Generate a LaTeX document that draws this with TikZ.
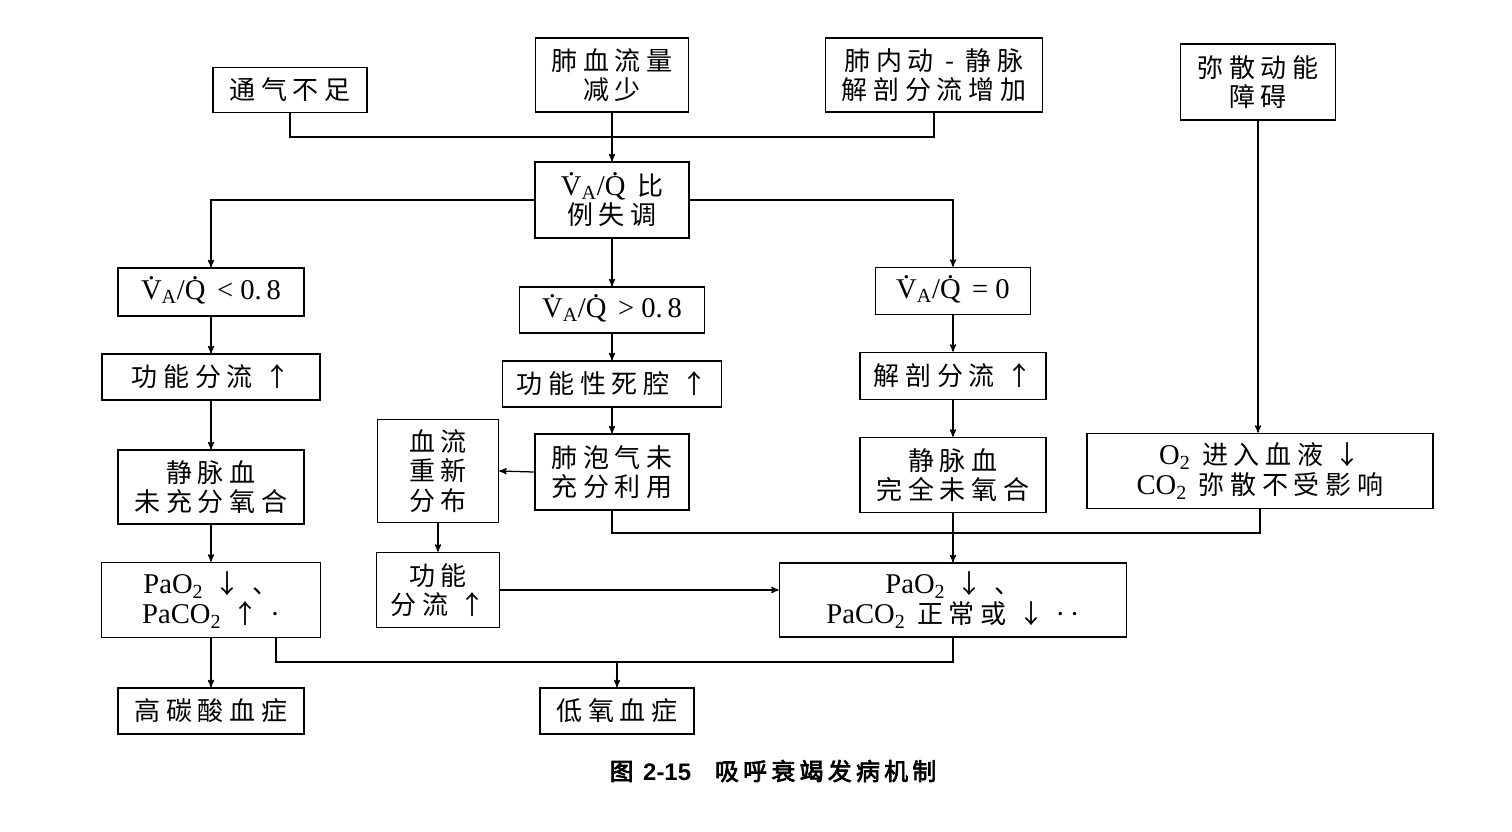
\documentclass[tikz,border=0pt]{standalone}
\usepackage[no-math]{fontspec}
\setmainfont[LetterSpace=22]{Noto Sans CJK SC}
\newfontfamily\lat[Scale=1.1]{Liberation Serif}
\newfontfamily\capfont[FakeBold=3,LetterSpace=18]{Noto Sans CJK SC}
\newfontfamily\capnum{Liberation Sans}
\usetikzlibrary{arrows}

\newcommand{\dt}[1]{\ooalign{#1\cr\hidewidth\raisebox{0.7em}{.}\hidewidth\cr}}
\newcommand{\vq}{{\lat\dt{V}\textsubscript{A}/\dt{Q}}}
\newcommand{\gas}[2]{{\lat #1\textsubscript{#2}}}

\begin{document}
\begin{tikzpicture}[
    x=0.025cm, y=-0.025cm,
    box/.style={rectangle, draw, line width=1.1pt, align=center, inner sep=2pt, font=\fontsize{18.5}{21}\selectfont},
    sz/.style 2 args={minimum width=#1cm, minimum height=#2cm},
    arrow/.style={->, >=stealth', line width=0.9pt},
    line/.style={line width=0.9pt}
]
\useasboundingbox (0,0) rectangle (1512,831);

% 病因
\node[box, sz={3.85}{1.125}] (tongqi) at (290,90) {通气不足};
\node[box, sz={3.825}{1.85}] (feixue) at (612,75) {肺血流量\\减少};
\node[box, sz={5.425}{1.85}] (feinei) at (934,75) {肺内动 - 静脉\\解剖分流增加};
\node[box, sz={3.875}{1.9}] (misan) at (1258,82) {弥散动能\\障碍};

% 比例失调
\node[box, sz={3.85}{1.9}] (vaq) at (612,200) {\vq\ 比\\例失调};
\node[box, sz={4.65}{1.2}] (lt08) at (211,292) {\vq\ {\lat < 0.\,8}};
\node[box, sz={4.625}{1.15}] (gt08) at (612,310) {\vq\ {\lat > 0.\,8}};
\node[box, sz={3.875}{1.175}] (eq0) at (953,291) {\vq\ {\lat = 0}};

% 中间环节
\node[box, sz={5.45}{1.15}] (gongneng) at (211,377) {功能分流 ↑};
\node[box, sz={5.475}{1.15}] (sijiang) at (612,384) {功能性死腔 ↑};
\node[box, sz={4.65}{1.175}] (jiepou) at (953,376) {解剖分流 ↑};
\node[box, sz={4.65}{1.85}] (jingmai1) at (211,487) {静脉血\\未充分氧合};
\node[box, sz={3.025}{2.575}] (xueliu) at (438,471) {血流\\重新\\分布};
\node[box, sz={3.85}{1.9}] (feipao) at (612,472) {肺泡气未\\充分利用};
\node[box, sz={4.65}{1.875}] (jingmai2) at (953,475) {静脉血\\完全未氧合};
\node[box, sz={8.65}{1.875}] (o2box) at (1260,471) {\gas{O}{2} 进入血液 ↓\\\gas{CO}{2} 弥散不受影响};

% 血气结果
\node[box, sz={5.475}{1.875}] (pa1) at (211,600) {\gas{PaO}{2} ↓ 、\\\gas{PaCO}{2} ↑ {\lat ·}};
\node[box, sz={3.075}{1.875}] (gnfl) at (438,590) {功能\\分流 ↑};
\node[box, sz={8.675}{1.85}] (pa2) at (953,600) {\gas{PaO}{2} ↓ 、\\\gas{PaCO}{2} 正常或 ↓ {\lat ·\,·}};
\node[box, sz={4.65}{1.15}] (gaotan) at (211,711) {高碳酸血症};
\node[box, sz={3.85}{1.15}] (diyang) at (617,711) {低氧血症};

\node[font=\capfont\fontsize{17}{20}\selectfont] (caption) at (773,771) {图 {\capnum\bfseries 2-15}\quad 吸呼衰竭发病机制};

% 连线
\coordinate (topjoin) at (612,137);
\draw[line] (tongqi.south) |- (topjoin) -| (feinei.south);
\draw[arrow] (feixue) -- (vaq);
\draw[arrow] (vaq.west) -| (lt08.north);
\draw[arrow] (vaq.east) -| (eq0.north);
\draw[arrow] (vaq) -- (gt08);

\draw[arrow] (lt08) -- (gongneng);
\draw[arrow] (gongneng) -- (jingmai1);
\draw[arrow] (jingmai1) -- (pa1);
\draw[arrow] (pa1) -- (gaotan);

\draw[arrow] (gt08) -- (sijiang);
\draw[arrow] (sijiang) -- (feipao);
\draw[arrow] (feipao.west) -- (xueliu.east);
\draw[arrow] (xueliu) -- (gnfl);
\draw[arrow] (gnfl.east) -- (gnfl.east -| pa2.west);

\draw[arrow] (eq0) -- (jiepou);
\draw[arrow] (jiepou) -- (jingmai2);
\draw[arrow] (jingmai2) -- (pa2);
\draw[arrow] (misan.south) -- (misan.south |- o2box.north);

\coordinate (midjoin) at (953,533);
\draw[line] (feipao.south) |- (midjoin) -| (o2box.south);

\coordinate (lowjoin) at (617,662);
\draw[line] ([xshift=1.625cm]pa1.south) |- (lowjoin) -| (pa2.south);
\draw[arrow] (lowjoin) -- (diyang);

\end{tikzpicture}
\end{document}
